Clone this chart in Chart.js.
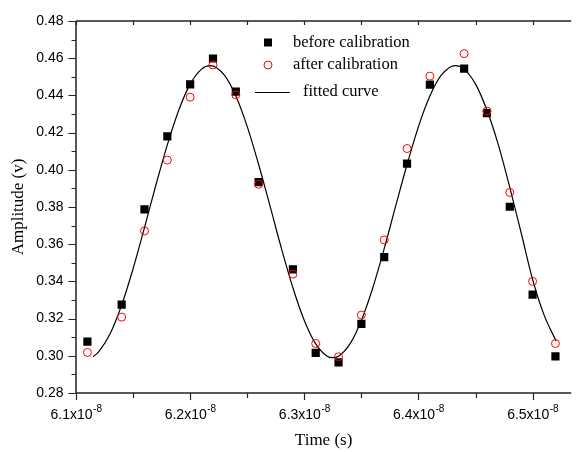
<!DOCTYPE html>
<html>
<head>
<meta charset="utf-8">
<script src="https://cdn.jsdelivr.net/npm/chart.js@4"></script>
<style>
  html, body { margin: 0; padding: 0; background: #fff; overflow: hidden; }
  #chart { display: block; }
</style>
</head>
<body>
<canvas id="chart" width="577" height="452"></canvas>
<script>
// time in units of 1e-8 s
const times = [6.11, 6.14, 6.16, 6.18, 6.20, 6.22, 6.24, 6.26, 6.29, 6.31,
               6.33, 6.35, 6.37, 6.39, 6.41, 6.44, 6.46, 6.48, 6.50, 6.52];
const beforeCal = [0.3076, 0.3275, 0.3787, 0.4179, 0.4459, 0.4598, 0.4420, 0.3933, 0.3465, 0.3016,
                   0.2965, 0.3171, 0.3530, 0.4033, 0.4457, 0.4543, 0.4304, 0.3801, 0.3329, 0.2997];
const afterCal = [0.3018, 0.3208, 0.3671, 0.4052, 0.4390, 0.4563, 0.4403, 0.3922, 0.3439, 0.3066,
                  0.2995, 0.3219, 0.3623, 0.4114, 0.4503, 0.4624, 0.4315, 0.3878, 0.3400, 0.3066];
const fitTimes = [6.115, 6.12, 6.13, 6.14, 6.15, 6.16, 6.17, 6.18, 6.19, 6.20, 6.21, 6.2175, 6.23,
                  6.24, 6.25, 6.26, 6.27, 6.28, 6.29, 6.30, 6.31, 6.32, 6.325, 6.33, 6.34, 6.35,
                  6.36, 6.37, 6.38, 6.39, 6.40, 6.41, 6.42, 6.4325, 6.44, 6.45, 6.46, 6.47, 6.48,
                  6.49, 6.50, 6.51, 6.5205];
const fitValues = [0.2995, 0.3023, 0.3120, 0.3273, 0.3468, 0.3689, 0.3918, 0.4134, 0.4320, 0.4460, 0.4541, 0.4560, 0.4508,
                   0.4396, 0.4232, 0.4028, 0.3804, 0.3576, 0.3366, 0.3190, 0.3064, 0.2998, 0.2990, 0.2998, 0.3064, 0.3190,
                   0.3366, 0.3576, 0.3804, 0.4028, 0.4232, 0.4396, 0.4508, 0.4560, 0.4541, 0.4460, 0.4320, 0.4134, 0.3905,
                   0.3660, 0.3410, 0.3220, 0.3080];
const seriesLabels = ['before calibration', 'after calibration', 'fitted curve'];
const timeExponent = '-8';

const axisColor = '#222';
const sansFamily = 'Liberation Sans, Arial, sans-serif';
const serifFont = 'Liberation Serif, Times New Roman, serif';

function toPoints(xs, ys) {
    return xs.map((x, i) => ({ x: x, y: ys[i] }));
}

// frame, tick marks, x labels with exponent and in-plot legend
const frameTicks = {
    id: 'frameTicks',
    afterDraw(chart) {
        const { ctx, chartArea: a, scales: { x, y } } = chart;
        ctx.save();
        ctx.strokeStyle = axisColor;
        ctx.lineWidth = 1.5;
        ctx.beginPath();
        ctx.moveTo(a.left, a.top); ctx.lineTo(a.right, a.top);
        ctx.moveTo(a.left, a.top); ctx.lineTo(a.left, a.bottom);
        ctx.moveTo(a.left, a.bottom); ctx.lineTo(a.right, a.bottom);
        ctx.stroke();

        ctx.lineWidth = 1.2;
        ctx.beginPath();
        x.ticks.forEach(t => {
            const px = Math.round(x.getPixelForValue(t.value)) + 0.5;
            const len = t.label ? 7 : 5;
            ctx.moveTo(px, a.bottom); ctx.lineTo(px, a.bottom + len);
            ctx.moveTo(px, a.top); ctx.lineTo(px, a.top + 4);
        });
        y.ticks.forEach(t => {
            const py = Math.round(y.getPixelForValue(t.value)) + 0.5;
            const len = t.label ? 7.5 : 4.5;
            ctx.moveTo(a.left, py); ctx.lineTo(a.left - len, py);
        });
        ctx.stroke();

        // x tick labels: mantissa x10 with superscript exponent
        ctx.fillStyle = '#000';
        ctx.textBaseline = 'alphabetic';
        ctx.textAlign = 'left';
        x.ticks.forEach(t => {
            if (!t.label) return;
            const base = t.label + 'x10';
            ctx.font = '14px ' + sansFamily;
            const w1 = ctx.measureText(base).width;
            ctx.font = '10px ' + sansFamily;
            const w2 = ctx.measureText(timeExponent).width;
            const x0 = x.getPixelForValue(t.value) - (w1 + w2) / 2;
            ctx.font = '14px ' + sansFamily;
            ctx.fillText(base, x0, 419);
            ctx.font = '10px ' + sansFamily;
            ctx.fillText(timeExponent, x0 + w1 + 0.5, 412);
        });

        // legend
        ctx.font = '16.5px ' + serifFont;
        ctx.textBaseline = 'middle';
        ctx.fillRect(264, 38.5, 8, 8);
        ctx.fillText(seriesLabels[0], 293, 43);
        ctx.strokeStyle = '#ff0000';
        ctx.lineWidth = 1;
        ctx.beginPath();
        ctx.arc(268, 65, 4, 0, Math.PI * 2);
        ctx.stroke();
        ctx.fillText(seriesLabels[1], 293, 65);
        ctx.strokeStyle = '#000';
        ctx.lineWidth = 1.2;
        ctx.beginPath();
        ctx.moveTo(255, 92.5); ctx.lineTo(290, 92.5);
        ctx.stroke();
        ctx.fillText(seriesLabels[2], 303, 92);
        ctx.restore();
    }
};

new Chart(document.getElementById('chart'), {
    type: 'scatter',
    data: {
        datasets: [
            {
                label: seriesLabels[2],
                data: toPoints(fitTimes, fitValues),
                showLine: true,
                borderColor: '#000',
                borderWidth: 1.2,
                pointRadius: 0,
                cubicInterpolationMode: 'monotone',
                order: 3
            },
            {
                label: seriesLabels[0],
                data: toPoints(times, beforeCal),
                pointStyle: 'rect',
                pointRadius: 5.8,
                backgroundColor: '#000',
                borderColor: '#000',
                borderWidth: 0,
                order: 2
            },
            {
                label: seriesLabels[1],
                data: toPoints(times, afterCal),
                pointStyle: 'circle',
                pointRadius: 4,
                backgroundColor: 'rgba(0,0,0,0)',
                borderColor: '#ff0000',
                borderWidth: 1,
                order: 1
            }
        ]
    },
    options: {
        responsive: false,
        animation: false,
        layout: { padding: { top: 14, right: 0, left: 0, bottom: 0 } },
        plugins: {
            legend: { display: false },
            tooltip: { enabled: false }
        },
        scales: {
            x: {
                type: 'linear',
                min: 6.1,
                max: 6.5338,
                grid: { drawOnChartArea: false, drawTicks: false },
                border: { display: false },
                ticks: {
                    stepSize: 0.05,
                    includeBounds: false,
                    autoSkip: false,
                    maxRotation: 0,
                    color: 'rgba(0,0,0,0)',
                    font: { family: sansFamily, size: 14 },
                    callback: v => Math.round(v * 100) % 10 === 0 ? v.toFixed(1) : ''
                },
                title: {
                    display: true,
                    text: 'Time (s)',
                    color: '#000',
                    font: { family: serifFont, size: 17 },
                    padding: { top: 0, bottom: 1 }
                },
                afterFit: scale => { scale.height = 59; }
            },
            y: {
                min: 0.28,
                max: 0.48,
                grid: { drawOnChartArea: false, drawTicks: false },
                border: { display: false },
                ticks: {
                    stepSize: 0.01,
                    autoSkip: false,
                    padding: 12.5,
                    color: '#000',
                    font: { family: sansFamily, size: 14 },
                    callback: v => Math.round(v * 100) % 2 === 0 ? v.toFixed(2) : ''
                },
                title: {
                    display: true,
                    text: 'Amplitude (v)',
                    color: '#000',
                    font: { family: serifFont, size: 17 },
                    padding: { top: 8, bottom: 0 }
                },
                afterFit: scale => { scale.width = 76; }
            }
        }
    },
    plugins: [frameTicks]
});
</script>
</body>
</html>
